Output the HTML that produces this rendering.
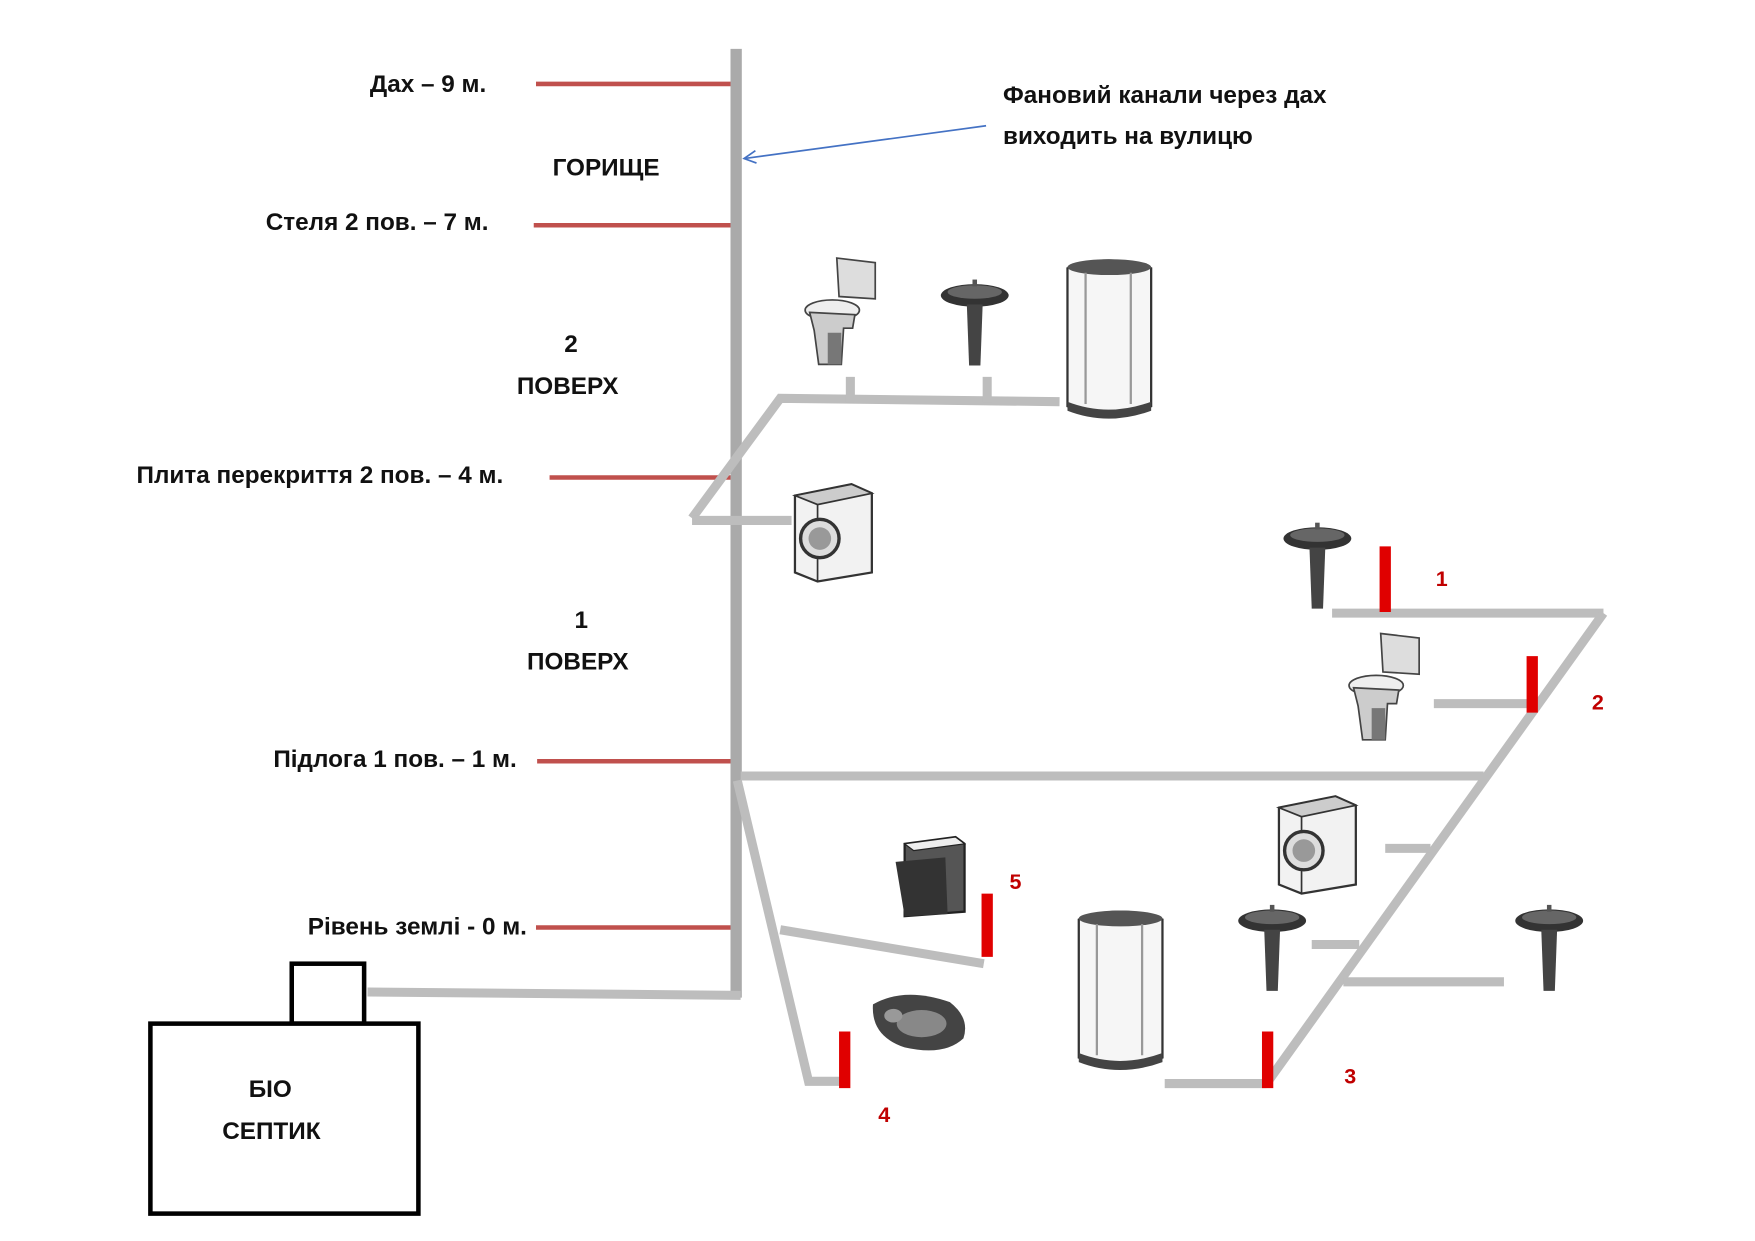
<!DOCTYPE html>
<html><head><meta charset="utf-8"><style>
html,body{margin:0;padding:0;background:#fff;}
svg{display:block;}
text{font-family:"Liberation Sans",sans-serif;font-weight:bold;fill:#111;}
</style></head><body>
<svg width="1755" height="1241" viewBox="0 0 1552 1097" xmlns="http://www.w3.org/2000/svg">
<defs>
<g id="sink">
<ellipse cx="30" cy="14" rx="30" ry="10" fill="#333"/>
<ellipse cx="30" cy="11" rx="24" ry="6" fill="#666"/>
<rect x="28" y="0" width="4" height="6" fill="#555"/>
<path d="M23 22 L37 22 L35 76 L25 76 Z" fill="#444"/>
</g>
<g id="toilet">
<path d="M28 0 L62 4 L62 36 L30 34 Z" fill="#ddd" stroke="#444" stroke-width="1.5"/>
<ellipse cx="24" cy="46" rx="24" ry="9" fill="#eee" stroke="#444" stroke-width="1.5"/>
<path d="M4 48 L44 50 L42 62 L34 62 L32 94 L12 94 L8 64 Z" fill="#ccc" stroke="#444" stroke-width="1.5"/>
<path d="M20 66 L32 66 L32 94 L20 94 Z" fill="#777"/>
</g>
<g id="shower">
<path d="M2 10 Q38 -4 76 10 L76 132 Q38 146 2 132 Z" fill="#f6f6f6" stroke="#333" stroke-width="2"/>
<ellipse cx="39" cy="9" rx="37" ry="7" fill="#555"/>
<path d="M2 128 Q38 142 76 128 L76 136 Q38 150 2 136 Z" fill="#444"/>
<line x1="18" y1="14" x2="18" y2="130" stroke="#999" stroke-width="2"/>
<line x1="58" y1="14" x2="58" y2="130" stroke="#999" stroke-width="2"/>
</g>
<g id="washer">
<path d="M0 10 L50 0 L68 8 L68 78 L20 86 L0 78 Z" fill="#f2f2f2" stroke="#333" stroke-width="2"/>
<path d="M0 10 L50 0 L68 8 L20 18 Z" fill="#ccc" stroke="#333" stroke-width="1.5"/>
<line x1="20" y1="18" x2="20" y2="86" stroke="#333" stroke-width="1.5"/>
<circle cx="22" cy="48" r="17" fill="#ddd" stroke="#333" stroke-width="3"/>
<circle cx="22" cy="48" r="10" fill="#999"/>
</g>
</defs>

<g stroke="#c0504d" stroke-width="4">
<line x1="474" y1="74" x2="651" y2="74"/>
<line x1="472" y1="199" x2="651" y2="199"/>
<line x1="486" y1="422" x2="655" y2="422"/>
<line x1="475" y1="673" x2="651" y2="673"/>
<line x1="474" y1="820" x2="655" y2="820"/>
</g>

<g stroke="#bdbdbd" stroke-width="8" fill="none" stroke-linecap="butt">
<line x1="651" y1="43" x2="651" y2="882" stroke="#aaa" stroke-width="10"/>
<polyline points="612,458 690,352 937,355"/>
<line x1="612" y1="460" x2="700" y2="460"/>
<line x1="752" y1="333" x2="752" y2="356"/>
<line x1="873" y1="333" x2="873" y2="356"/>
<line x1="655" y1="686" x2="1312" y2="686"/>
<line x1="1178" y1="542" x2="1418" y2="542"/>
<line x1="1418" y1="542" x2="1120" y2="958"/>
<line x1="1268" y1="622" x2="1352" y2="622"/>
<line x1="1225" y1="750" x2="1265" y2="750"/>
<line x1="1160" y1="835" x2="1202" y2="835"/>
<line x1="1188" y1="868" x2="1330" y2="868"/>
<line x1="1030" y1="958" x2="1120" y2="958"/>
<polyline points="652,690 715,956 745,956"/>
<line x1="690" y1="822" x2="870" y2="852"/>
<line x1="325" y1="877" x2="655" y2="880"/>
</g>

<line x1="872" y1="111" x2="658" y2="140" stroke="#4472c4" stroke-width="1.5"/>
<polyline points="668,133 658,140 669,144" stroke="#4472c4" stroke-width="1.5" fill="none"/>

<g stroke="#e00000" stroke-width="10">
<line x1="1225" y1="483" x2="1225" y2="541"/>
<line x1="1355" y1="580" x2="1355" y2="630"/>
<line x1="873" y1="790" x2="873" y2="846"/>
<line x1="747" y1="912" x2="747" y2="962"/>
<line x1="1121" y1="912" x2="1121" y2="962"/>
</g>

<use href="#toilet" x="712" y="228"/>
<use href="#sink" x="832" y="247"/>
<use href="#shower" x="942" y="227"/>
<use href="#washer" x="703" y="428"/>
<use href="#sink" x="1135" y="462"/>
<use href="#toilet" x="1193" y="560"/>
<use href="#washer" x="1131" y="704"/>
<use href="#sink" x="1095" y="800"/>
<use href="#sink" x="1340" y="800"/>
<use href="#shower" x="952" y="803"/>
<path d="M800 746 L845 740 L853 746 L853 806 L800 810 Z" fill="#555" stroke="#222" stroke-width="2"/>
<path d="M792 762 L836 758 L838 808 L800 810 Z" fill="#333"/>
<path d="M800 746 L845 740 L853 746 L808 752 Z" fill="#eee" stroke="#222"/>
<path d="M772 888 Q800 872 840 886 Q858 900 852 918 Q835 934 800 926 Q770 916 772 888 Z" fill="#444"/>
<ellipse cx="815" cy="905" rx="22" ry="12" fill="#888"/>
<ellipse cx="790" cy="898" rx="8" ry="6" fill="#999"/>

<rect x="258" y="852" width="64" height="53" fill="#fff" stroke="#000" stroke-width="4"/>
<rect x="133" y="905" width="237" height="168" fill="#fff" stroke="#000" stroke-width="4"/>

<g font-size="21.5">
<text x="430" y="81" text-anchor="end">Дах – 9 м.</text>
<text x="536" y="155" text-anchor="middle">ГОРИЩЕ</text>
<text x="432" y="203" text-anchor="end">Стеля 2 пов. – 7 м.</text>
<text x="505" y="311" text-anchor="middle">2</text>
<text x="502" y="348" text-anchor="middle">ПОВЕРХ</text>
<text x="445" y="427" text-anchor="end">Плита перекриття  2 пов. – 4 м.</text>
<text x="514" y="555" text-anchor="middle">1</text>
<text x="511" y="592" text-anchor="middle">ПОВЕРХ</text>
<text x="457" y="678" text-anchor="end">Підлога 1 пов. – 1 м.</text>
<text x="466" y="826" text-anchor="end">Рівень землі - 0 м.</text>
<text x="887" y="91">Фановий канали через дах</text>
<text x="887" y="127">виходить на вулицю</text>
<text x="239" y="970" text-anchor="middle">БІО</text>
<text x="240" y="1007" text-anchor="middle">СЕПТИК</text>
</g>
<g font-size="19">
<text x="1275" y="518" text-anchor="middle" style="fill:#c00000">1</text>
<text x="1413" y="627" text-anchor="middle" style="fill:#c00000">2</text>
<text x="898" y="786" text-anchor="middle" style="fill:#c00000">5</text>
<text x="782" y="992" text-anchor="middle" style="fill:#c00000">4</text>
<text x="1194" y="958" text-anchor="middle" style="fill:#c00000">3</text>
</g>
</svg>
</body></html>
